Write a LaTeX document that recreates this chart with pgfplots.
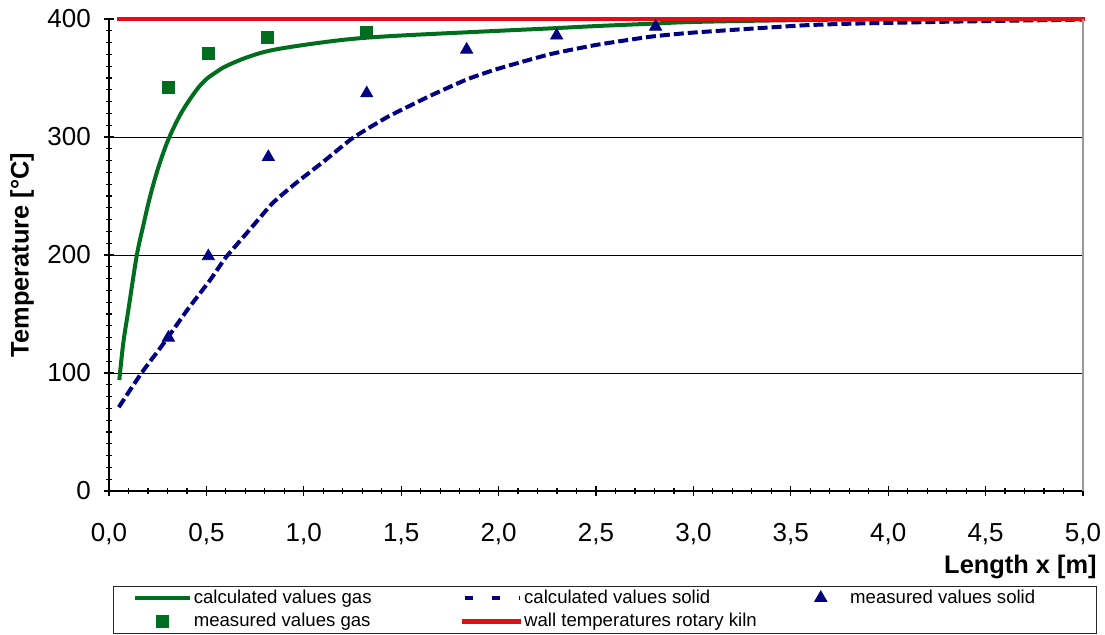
\documentclass[border=0pt]{standalone}
\usepackage{fontspec}
\setmainfont{Liberation Sans}
\usepackage{pgfplots}
\pgfplotsset{compat=1.18}
\definecolor{cgreen}{RGB}{0,110,30}
\definecolor{cblue}{RGB}{0,0,128}
\definecolor{cred}{RGB}{225,15,20}
\pgfplotsset{dashlegend/.style={legend image code/.code={\path[draw=none, fill=none] (0pt,-3pt) (27pt,3pt);
     \draw[##1, dash pattern=on 4pt off 9.5pt] (0pt,0pt) -- (27.6pt,0pt);}}}
\begin{document}
\begin{tikzpicture}
\path[use as bounding box] (-54.5pt,-71.5pt) rectangle (498pt,245.5pt);
\begin{axis}[
  at={(0pt,0pt)}, anchor=south west,
  scale only axis, width=487pt, height=236pt,
  xmin=0, xmax=5, ymin=0, ymax=400,
  xtick={0,0.5,1,1.5,2,2.5,3,3.5,4,4.5,5},
  ytick={0,100,200,300,400},
  minor x tick num=4, minor y tick num=9,
  tick align=outside, major tick length=4.6pt, minor tick length=3pt,
  axis lines=left, axis line style={-, line width=0.6pt, black},
  every tick/.style={black, line width=0.6pt},
  extra y ticks={100,200,300}, extra y tick labels={},
  extra y tick style={ymajorgrids=true, major tick length=0pt},
  major grid style={black, line width=0.5pt},
  clip=false,
  /pgf/number format/assume math mode=true,
  x tick label style={/pgf/number format/fixed, /pgf/number format/fixed zerofill,
     /pgf/number format/precision=1, /pgf/number format/use comma, yshift=-10.5pt},
  y tick label style={/pgf/number format/fixed, xshift=-3.3pt},
  tick label style={font=\fontsize{13}{15}\selectfont},
  xlabel={\textbf{Length x [m]}},
  ylabel={\textbf{Temperature [°C]}},
  label style={font=\fontsize{12.7}{15}\selectfont, inner sep=0pt},
  xlabel style={at={(axis description cs:1.0144,-0.161)}, anchor=east},
  ylabel style={at={(axis description cs:-0.0893,0.5)}, anchor=center},
  legend columns=3,
  legend cell align=left,
  legend style={at={(axis description cs:0.0041,-0.2006)}, anchor=north west,
    draw=black!85, inner xsep=10pt, inner ysep=0pt, column sep=0pt, row sep=0pt,
    font=\fontsize{9.3}{11}\selectfont,
    nodes={inner sep=0pt, text height=8.5pt, text depth=3.3pt, anchor=west},
    /tikz/every odd column/.append style={column sep=1.2pt}},
  legend image code/.code={\path[draw=none, fill=none] (0pt,-3pt) (27pt,3pt);
     \draw[mark repeat=2,mark phase=2,#1] plot coordinates {(0pt,0pt)(13.5pt,0pt)(27pt,0pt)};},
]
\addplot[cgreen, line width=2pt, smooth, tension=0.55] coordinates {
 (0.053,94) (0.073,125) (0.099,153) (0.142,199) (0.176,225) (0.210,249)
 (0.253,274) (0.305,298) (0.373,321) (0.45,340) (0.50,349) (0.55,355)
 (0.60,360) (0.70,367) (0.82,373) (1.0,378) (1.24,383) (1.5,386)
 (2.0,390) (2.26,392) (2.5,394) (2.78,396) (3.0,397.5) (3.5,399)
 (4.0,399.7) (5.0,400)};
\addlegendentry{\makebox[134.3pt][l]{calculated values gas}}
\addplot[cblue, line width=2pt, dash pattern=on 5pt off 2pt, smooth, tension=0.3, dashlegend] coordinates {
 (0.05,71) (0.167,100) (0.28,125) (0.40,153) (0.52,179) (0.60,198)
 (0.72,221) (0.84,244) (0.96,261) (1.10,279) (1.25,299) (1.43,317)
 (1.65,335) (1.84,349) (2.0,358) (2.26,370) (2.5,378) (2.78,385)
 (3.0,388.5) (3.55,394.5) (3.8,396) (4.3,397.7) (5.0,399.5)};
\addlegendentry{\makebox[134.8pt][l]{calculated values solid}}
\addplot[only marks, mark=triangle*, mark size=3.5pt, color=cblue] coordinates {
 (0.305,130) (0.51,199) (0.818,283) (1.323,337) (1.836,374) (2.298,386) (2.806,393.5)};
\addlegendentry{\makebox[113.3pt][l]{measured values solid}}
\addplot[only marks, mark=square*, mark size=3pt, color=cgreen] coordinates {
 (0.305,342) (0.51,371) (0.815,384) (1.323,388.5)};
\addlegendentry{measured values gas}
\addplot[cred, line width=2.2pt, line cap=rect] coordinates {(0.05,400) (5.0,400)};
\addlegendentry{wall temperatures rotary kiln}
\draw[gray!80, line width=0.6pt] (rel axis cs:1,0) -- (rel axis cs:1,1);
\end{axis}
\end{tikzpicture}
\end{document}
